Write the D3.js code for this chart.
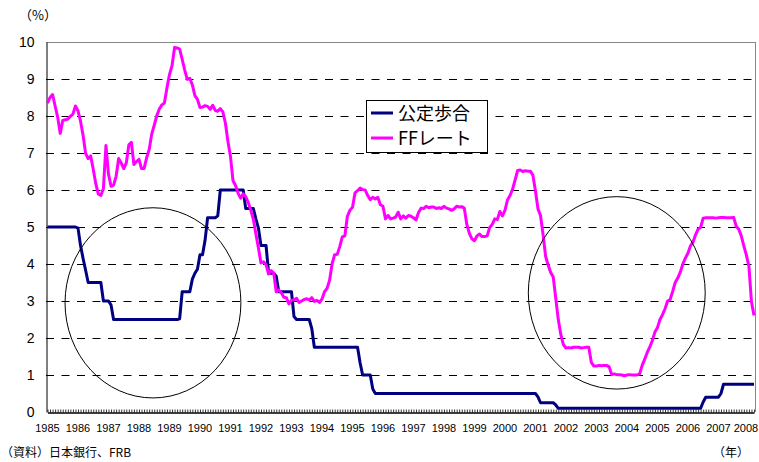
<!DOCTYPE html>
<html>
<head>
<meta charset="utf-8">
<script src="https://cdn.jsdelivr.net/npm/d3@7"></script>
<style>
  body { margin: 0; background: #fff; }
  text { font-family: "Liberation Sans", Arial, "Noto Sans CJK JP", sans-serif; fill: #000; }
  .jp { font-family: "Noto Sans CJK JP", "Liberation Sans", sans-serif; }
</style>
</head>
<body>
<div id="chart"></div>
<script>
// monthly data, Jan 1985 - Mar 2008
var years = ['1985','1986','1987','1988','1989','1990','1991','1992','1993','1994','1995','1996',
             '1997','1998','1999','2000','2001','2002','2003','2004','2005','2006','2007','2008'];
var yTicks = [0,1,2,3,4,5,6,7,8,9,10];
var seriesNames = ['公定歩合', 'FFレート'];

// 公定歩合 (BOJ discount rate)
var odr = [
  5,5,5,5,5,5,5,5,5,5,5,5,
  4.97,4.5,4.15,3.83,3.5,3.5,3.5,3.5,3.5,3.5,3,3,
  3,2.89,2.5,2.5,2.5,2.5,2.5,2.5,2.5,2.5,2.5,2.5,
  2.5,2.5,2.5,2.5,2.5,2.5,2.5,2.5,2.5,2.5,2.5,2.5,
  2.5,2.5,2.5,2.5,2.52,3.25,3.25,3.25,3.25,3.59,3.75,3.86,
  4.25,4.25,4.64,5.25,5.25,5.25,5.25,5.3,6,6,6,6,
  6,6,6,6,6,6,5.5,5.5,5.5,5.5,5.22,4.97,
  4.5,4.5,4.5,3.75,3.75,3.75,3.67,3.25,3.25,3.25,3.25,3.25,
  3.25,2.58,2.5,2.5,2.5,2.5,2.5,2.5,2.25,1.75,1.75,1.75,
  1.75,1.75,1.75,1.75,1.75,1.75,1.75,1.75,1.75,1.75,1.75,1.75,
  1.75,1.75,1.75,1.33,1,1,1,1,0.62,0.5,0.5,0.5,
  0.5,0.5,0.5,0.5,0.5,0.5,0.5,0.5,0.5,0.5,0.5,0.5,
  0.5,0.5,0.5,0.5,0.5,0.5,0.5,0.5,0.5,0.5,0.5,0.5,
  0.5,0.5,0.5,0.5,0.5,0.5,0.5,0.5,0.5,0.5,0.5,0.5,
  0.5,0.5,0.5,0.5,0.5,0.5,0.5,0.5,0.5,0.5,0.5,0.5,
  0.5,0.5,0.5,0.5,0.5,0.5,0.5,0.5,0.5,0.5,0.5,0.5,
  0.5,0.41,0.25,0.25,0.25,0.25,0.25,0.25,0.19,0.1,0.1,0.1,
  0.1,0.1,0.1,0.1,0.1,0.1,0.1,0.1,0.1,0.1,0.1,0.1,
  0.1,0.1,0.1,0.1,0.1,0.1,0.1,0.1,0.1,0.1,0.1,0.1,
  0.1,0.1,0.1,0.1,0.1,0.1,0.1,0.1,0.1,0.1,0.1,0.1,
  0.1,0.1,0.1,0.1,0.1,0.1,0.1,0.1,0.1,0.1,0.1,0.1,
  0.1,0.1,0.1,0.1,0.1,0.1,0.27,0.4,0.4,0.4,0.4,0.4,
  0.4,0.5,0.75,0.75,0.75,0.75,0.75,0.75,0.75,0.75,0.75,0.75,
  0.75,0.75,0.75
];

// FFレート (effective federal funds rate)
var ffr = [
  8.35,8.5,8.58,8.27,7.97,7.53,7.88,7.9,7.92,7.99,8.05,8.27,
  8.14,7.86,7.48,6.99,6.85,6.92,6.56,6.17,5.89,5.85,6.04,7.2,
  6.43,6.1,6.13,6.37,6.85,6.73,6.58,6.73,7.22,7.29,6.69,6.77,
  6.83,6.58,6.58,6.87,7.09,7.51,7.75,8.01,8.19,8.3,8.35,8.76,
  9.12,9.36,9.85,9.84,9.81,9.53,9.24,8.99,9.02,8.84,8.55,8.45,
  8.23,8.24,8.28,8.26,8.18,8.29,8.15,8.13,8.2,8.11,7.81,7.31,
  6.91,6.25,6.12,5.91,5.78,5.9,5.82,5.66,5.45,5.21,4.81,4.43,
  4.03,4.06,3.98,3.73,3.82,3.76,3.25,3.3,3.22,3.1,3.09,2.92,
  3.02,3.03,3.07,2.96,3,3.04,3.06,3.03,3.09,2.99,3.02,2.96,
  3.05,3.25,3.34,3.56,4.01,4.25,4.26,4.47,4.73,4.76,5.29,5.45,
  5.53,5.92,5.98,6.05,6.01,6,5.85,5.74,5.8,5.76,5.8,5.6,
  5.56,5.22,5.31,5.22,5.24,5.27,5.4,5.22,5.3,5.24,5.31,5.29,
  5.25,5.19,5.39,5.51,5.5,5.56,5.52,5.54,5.54,5.5,5.52,5.5,
  5.56,5.51,5.49,5.45,5.49,5.56,5.54,5.55,5.51,5.07,4.83,4.68,
  4.63,4.76,4.81,4.74,4.74,4.76,4.99,5.07,5.22,5.2,5.42,5.3,
  5.45,5.73,5.85,6.02,6.27,6.53,6.54,6.5,6.52,6.51,6.51,6.4,
  5.98,5.49,5.31,4.8,4.21,3.97,3.77,3.65,3.07,2.49,2.09,1.82,
  1.73,1.74,1.73,1.75,1.75,1.75,1.73,1.74,1.75,1.75,1.34,1.24,
  1.24,1.26,1.25,1.26,1.26,1.22,1.01,1.03,1.01,1.01,1,0.98,
  1,1.01,1,1,1,1.03,1.26,1.43,1.61,1.76,1.93,2.16,
  2.28,2.5,2.63,2.79,3,3.04,3.26,3.5,3.62,3.78,4,4.16,
  4.29,4.49,4.59,4.79,4.94,4.99,5.24,5.25,5.25,5.25,5.25,5.24,
  5.25,5.26,5.26,5.25,5.25,5.25,5.26,5.02,4.94,4.76,4.49,4.24,
  3.94,2.98,2.61
];

// ellipse annotations in data units: centre month index, centre %, radius months, radius %
var rings = [
  {m: 41.5, v: 2.95, rm: 34.6, rv: 2.57},
  {m: 224, v: 3.22, rm: 34.8, rv: 2.6}
];

var width = 759, height = 462;
var plot = {left: 46, right: 755, top: 42, bottom: 412};

var svg = d3.select('#chart').append('svg')
    .attr('width', width)
    .attr('height', height);

svg.append('rect').attr('width', width).attr('height', height).attr('fill', '#fff');

var x = d3.scaleLinear()
    .domain([0, odr.length - 1])
    .range([plot.left + 1.5, plot.right - 1]);

var y = d3.scaleLinear()
    .domain([0, 10])
    .range([plot.bottom, plot.top]);

// dashed gridlines
svg.append('g')
    .selectAll('line')
    .data(yTicks.filter(function(d) { return d > 0 && d < 10; }))
  .enter().append('line')
    .attr('x1', plot.left)
    .attr('x2', plot.right)
    .attr('y1', function(d) { return Math.round(y(d)) + 0.5; })
    .attr('y2', function(d) { return Math.round(y(d)) + 0.5; })
    .attr('stroke', '#000')
    .attr('stroke-dasharray', '8,7.5');

// frame: top and right in grey
svg.append('line')
    .attr('x1', plot.left).attr('x2', plot.right)
    .attr('y1', plot.top + 0.5).attr('y2', plot.top + 0.5)
    .attr('stroke', '#888');
svg.append('line')
    .attr('x1', plot.right + 0.5).attr('x2', plot.right + 0.5)
    .attr('y1', plot.top).attr('y2', plot.bottom)
    .attr('stroke', '#888');

// y axis
var yAxis = svg.append('g')
    .attr('transform', 'translate(' + (plot.left + 0.5) + ',0)')
    .call(d3.axisLeft(y).tickValues(yTicks).tickSize(0).tickPadding(12));
yAxis.select('.domain').attr('stroke', '#000');
yAxis.selectAll('text')
    .style('font-size', '14px')
    .style('font-family', '"Liberation Sans", Arial, sans-serif');

// x axis: monthly minor ticks inside
var xAxis = svg.append('g')
    .attr('transform', 'translate(0,' + (plot.bottom + 0.5) + ')')
    .call(d3.axisBottom(x).tickValues(d3.range(0, odr.length)).tickSize(-3).tickSizeOuter(0).tickFormat(''));
xAxis.select('.domain').attr('stroke', '#000').attr('stroke-width', 1.5);
xAxis.selectAll('.tick line').attr('stroke', '#000').attr('stroke-width', 0.8);

svg.append('g')
    .selectAll('text')
    .data(years)
  .enter().append('text')
    .attr('x', function(d, i) { return Math.min(x(i * 12), width - 13); })
    .attr('y', 432)
    .attr('text-anchor', 'middle')
    .style('font-size', '11px')
    .text(function(d) { return d; });

// lines
var line = d3.line()
    .x(function(d, i) { return x(i); })
    .y(function(d) { return y(d); });

svg.append('path')
    .datum(odr)
    .attr('fill', 'none')
    .attr('stroke', '#000080')
    .attr('stroke-width', 3)
    .attr('stroke-linejoin', 'round')
    .attr('d', line);

svg.append('path')
    .datum(ffr)
    .attr('fill', 'none')
    .attr('stroke', '#ff00ff')
    .attr('stroke-width', 3)
    .attr('stroke-linejoin', 'round')
    .attr('d', line);

// circles
svg.append('g')
    .selectAll('ellipse')
    .data(rings)
  .enter().append('ellipse')
    .attr('cx', function(d) { return x(d.m); })
    .attr('cy', function(d) { return y(d.v); })
    .attr('rx', function(d) { return x(d.rm) - x(0); })
    .attr('ry', function(d) { return y(0) - y(d.rv); })
    .attr('fill', 'none')
    .attr('stroke', '#000')
    .attr('stroke-width', 1);

// legend
var legend = svg.append('g').attr('transform', 'translate(366,100)');
legend.append('rect')
    .attr('x', 0.5).attr('y', 0.5)
    .attr('width', 121).attr('height', 52)
    .attr('fill', '#fff')
    .attr('stroke', '#000');
var colors = ['#000080', '#ff00ff'];
seriesNames.forEach(function(name, i) {
  var row = legend.append('g').attr('transform', 'translate(0,' + (13 + i * 25) + ')');
  row.append('line')
      .attr('x1', 5).attr('x2', 27)
      .attr('y1', 0).attr('y2', 0)
      .attr('stroke', colors[i])
      .attr('stroke-width', 3);
  row.append('text')
      .attr('class', 'jp')
      .attr('x', 32)
      .attr('y', 6.5)
      .style('font-size', '18px')
      .text(name);
});

// titles and notes
svg.append('text')
    .attr('class', 'jp')
    .attr('x', 19).attr('y', 20)
    .style('font-size', '13px')
    .text('（%）');

svg.append('text')
    .attr('class', 'jp')
    .attr('x', 1).attr('y', 457)
    .style('font-size', '12px')
    .text('（資料）日本銀行、FRB');

svg.append('text')
    .attr('class', 'jp')
    .attr('x', 713).attr('y', 457)
    .style('font-size', '12px')
    .text('（年）');
</script>
</body>
</html>
